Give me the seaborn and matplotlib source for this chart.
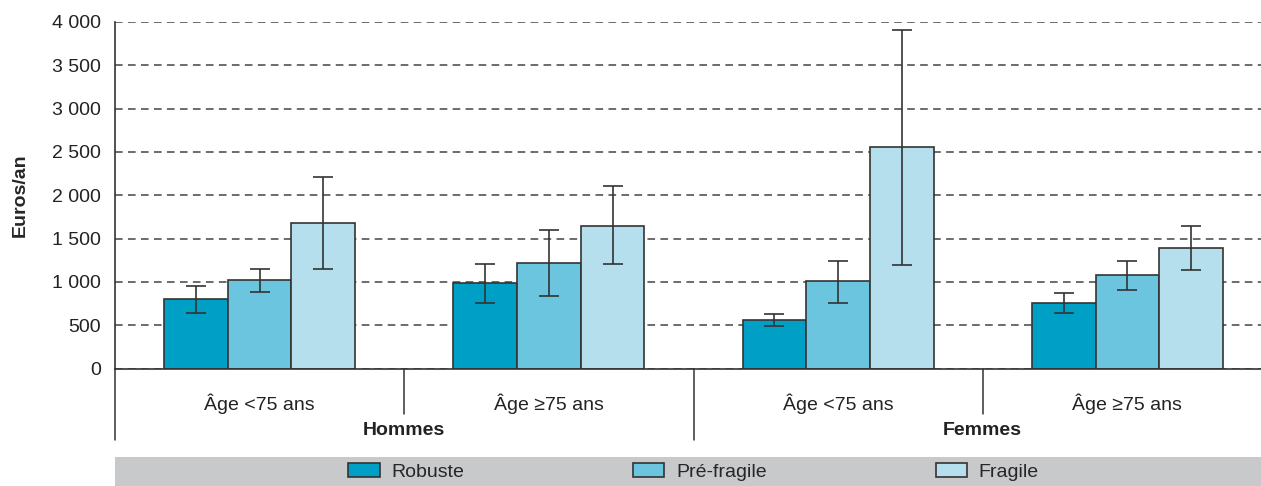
import numpy as np
import pandas as pd
import seaborn as sns
import matplotlib.pyplot as plt
from matplotlib import font_manager
from matplotlib.patches import Rectangle
from matplotlib.ticker import FuncFormatter, MultipleLocator
import matplotlib.transforms as mtransforms


# Data
sexes = ['Hommes', 'Hommes', 'Femmes', 'Femmes']
age_labels = ['Âge <75 ans', 'Âge ≥75 ans', 'Âge <75 ans', 'Âge ≥75 ans']
groups = ['H <75', 'H ≥75', 'F <75', 'F ≥75']
statuts = ['Robuste', 'Pré-fragile', 'Fragile']

robuste = [801, 991, 562, 751]
robuste_low = [644, 760, 493, 644]
robuste_high = [956, 1206, 628, 867]

prefragile = [1025, 1214, 1006, 1083]
prefragile_low = [882, 836, 760, 910]
prefragile_high = [1148, 1595, 1237, 1237]

fragile = [1680, 1645, 2558, 1395]
fragile_low = [1148, 1206, 1191, 1133]
fragile_high = [2208, 2104, 3903, 1642]

colors = ['#00a0c6', '#6cc5de', '#b5dfec']

# Font (narrow if available)
installed = {f.name for f in font_manager.fontManager.ttflist}
base_font = 'Liberation Sans Narrow' if 'Liberation Sans Narrow' in installed else 'Liberation Sans'

sns.set_style('white')
plt.rcParams['font.family'] = [base_font, 'DejaVu Sans']
plt.rcParams['font.size'] = 14

df = pd.DataFrame({
    'groupe': groups * 3,
    'statut': [s for s in statuts for _ in groups],
    'valeur': robuste + prefragile + fragile,
    'bas': robuste_low + prefragile_low + fragile_low,
    'haut': robuste_high + prefragile_high + fragile_high,
})

fig = plt.figure(figsize=(12.61, 4.86), dpi=100)
ax = fig.add_axes([115 / 1261, 117.5 / 486, 1157 / 1261, 346.5 / 486])

sns.barplot(data=df, x='groupe', y='valeur', hue='statut', order=groups,
            hue_order=statuts, palette=colors, width=0.66, errorbar=None,
            edgecolor='#333333', linewidth=1.2, saturation=1, ax=ax, zorder=2)

# Error bars
for container, statut in zip(ax.containers, statuts):
    sub = df[df['statut'] == statut].set_index('groupe').loc[groups]
    xs = [b.get_x() + b.get_width() / 2 for b in container]
    yerr = [sub['valeur'] - sub['bas'], sub['haut'] - sub['valeur']]
    ax.errorbar(xs, sub['valeur'], yerr=yerr, fmt='none', ecolor='#333333',
                elinewidth=1.2, capsize=7, capthick=1.2, zorder=3)

# Axes
ax.set_xlim(-0.5, 3.5)
ax.set_ylim(0, 4000)
ax.yaxis.set_major_locator(MultipleLocator(500))
ax.yaxis.set_major_formatter(FuncFormatter(lambda v, p: f'{int(v):,}'.replace(',', ' ')))
ax.grid(axis='y', color='#444444', linestyle=(0, (5, 3.5)), linewidth=1.1, zorder=0)
ax.set_axisbelow(True)
for s in ['top', 'right']:
    ax.spines[s].set_visible(False)
for s in ['left', 'bottom']:
    ax.spines[s].set_color('#333333')
    ax.spines[s].set_linewidth(1.2)
ax.tick_params(axis='y', length=6, color='#555555', labelsize=14, pad=4, labelcolor='#222222')
ax.set_xticks(range(len(groups)))
ax.set_xticklabels(age_labels)
ax.tick_params(axis='x', length=0, labelsize=14, pad=18, labelcolor='#222222')
ax.set_xlabel('')
ax.set_ylabel('Euros/an', fontsize=14, fontweight='bold', labelpad=17)

# Separators below axis and sex labels
trans = mtransforms.blended_transform_factory(ax.transData, ax.transAxes)
for xpos, ybot in [(-0.5, -0.206), (0.5, -0.131), (1.5, -0.206), (2.5, -0.131)]:
    ax.plot([xpos, xpos], [0, ybot], color='#333333', lw=1.1, transform=trans, clip_on=False)
for xpos, sexe in [(0.5, 'Hommes'), (2.5, 'Femmes')]:
    ax.text(xpos, -0.1795, sexe, transform=trans, ha='center', va='center',
            fontsize=14, fontweight='bold', color='#222222')

# Legend band
handles, labels = ax.get_legend_handles_labels()
ax.get_legend().remove()
fig.patches.append(Rectangle((115 / 1261, 0), 1146 / 1261, 29 / 486,
                             transform=fig.transFigure, facecolor='#c8c9cb',
                             edgecolor='none', zorder=0))
fig.legend(handles, labels, loc='center', bbox_to_anchor=(0.550, 14 / 486), ncol=3,
           frameon=False, fontsize=14, handlelength=1.6, handleheight=0.75,
           handletextpad=0.6, columnspacing=8.7, borderpad=0)

fig.savefig('out.png', dpi=100)
